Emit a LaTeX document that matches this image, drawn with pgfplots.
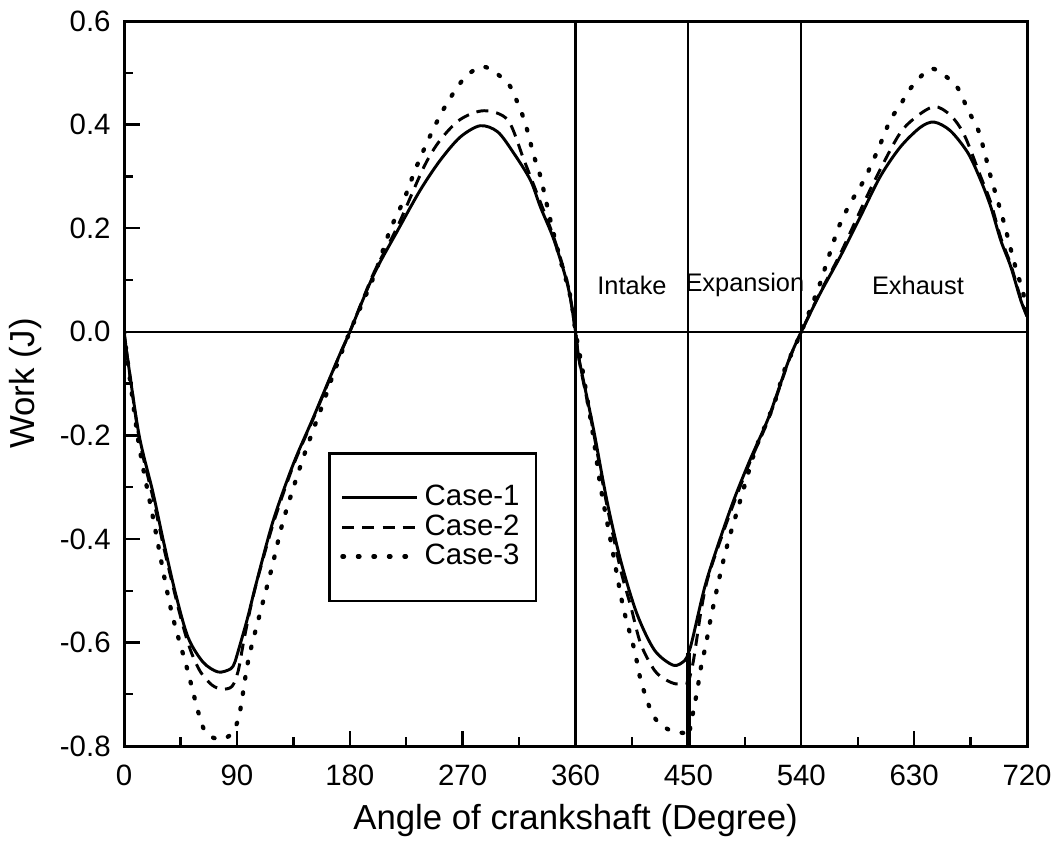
\documentclass[border=0pt]{standalone}
\usepackage{fontspec}
\setmainfont{Liberation Sans}
\usepackage{pgfplots}
\pgfplotsset{compat=1.18}

\begin{document}
\begin{tikzpicture}
\begin{axis}[
  scale only axis,
  width=337.7pt, height=271.1pt,
  xmin=0, xmax=720, ymin=-0.8, ymax=0.6,
  xtick={0,90,...,720},
  xticklabels={0,90,180,270,360,450,540,630,720},
  ytick={-0.8,-0.6,-0.4,-0.2,0,0.2,0.4,0.6},
  yticklabels={-0.8,-0.6,-0.4,-0.2,0.0,0.2,0.4,0.6},
  minor x tick num=1, minor y tick num=1,
  xtick pos=bottom, ytick pos=left,
  tick align=inside,
  major tick length=5.8pt, minor tick length=3.4pt,
  every tick/.style={black, line width=0.9pt},
  axis line style={line width=1.1pt},
  ticklabel style={font=\fontsize{11}{13}\selectfont},
  xticklabel style={yshift=-3.5pt},
  yticklabel style={xshift=-1.5pt},
  xlabel={Angle of crankshaft (Degree)},
  ylabel={Work (J)},
  label style={font=\fontsize{13}{15}\selectfont},
  legend style={at={(axis cs:163,-0.233)}, anchor=north west, draw=black,
    line width=0.8pt, font=\fontsize{11}{13}\selectfont,
    inner xsep=4pt, inner ysep=11pt,
    nodes={inner xsep=2pt, inner ysep=0.6pt, text height=8pt, text depth=1.8pt}},
  legend cell align=left,
  legend image code/.code={\draw[#1] (0pt,0pt) -- (28pt,0pt);},
]
% reference lines
\addplot[black, line width=0.8pt, forget plot] coordinates {(0,0) (720,0)};
\addplot[black, line width=0.8pt, forget plot] coordinates {(360,-0.8) (360,0.6)};
\addplot[black, line width=0.8pt, forget plot] coordinates {(450,-0.8) (450,0.6)};
\addplot[black, line width=0.8pt, forget plot] coordinates {(540,-0.8) (540,0.6)};
\addplot[black, line width=1.6pt, forget plot] coordinates {(450,-0.8) (450,-0.62)};

% Case-1
\addplot[black, line width=1.1pt, smooth] coordinates {
(0,0) (3,-0.055) (12,-0.20) (23,-0.31) (31,-0.40) (41,-0.505) (51,-0.59) (63,-0.638)
(75,-0.657) (85,-0.651) (88,-0.64) (90,-0.625) (98,-0.557) (106,-0.48) (119,-0.364)
(135,-0.255) (151,-0.165) (170,-0.055) (180,0) (199,0.11) (218,0.195) (236,0.273)
(252,0.331) (268,0.376) (284,0.398) (298,0.386) (311,0.344) (324,0.293) (332,0.241)
(343,0.176) (354,0.087) (360,0) (363,-0.055) (374,-0.184) (385,-0.326) (396,-0.442)
(409,-0.545) (423,-0.615) (438,-0.644) (447,-0.635) (450,-0.62) (453,-0.596)
(463,-0.493) (473,-0.416) (486,-0.326) (499,-0.248) (514,-0.165) (530,-0.055) (540,0)
(555,0.074) (571,0.145) (587,0.222) (603,0.3) (619,0.357) (635,0.395) (646,0.405)
(659,0.388) (673,0.345) (683,0.293) (691,0.242) (699,0.177) (707,0.126) (715,0.061)
(720,0.03)};
\addlegendentry{Case-1}

% Case-2
\addplot[black, line width=1.1pt, smooth, dash pattern=on 4.5pt off 3pt] coordinates {
(0,0) (3,-0.055) (12,-0.205) (23,-0.32) (32,-0.42) (45,-0.55) (53,-0.615) (61,-0.657)
(70,-0.682) (78,-0.69) (86,-0.685) (91,-0.655) (96,-0.59) (104,-0.5) (119,-0.37)
(135,-0.258) (151,-0.167) (170,-0.056) (180,0) (199,0.113) (218,0.203) (239,0.318)
(252,0.37) (268,0.41) (287,0.427) (306,0.409) (319,0.331) (332,0.25) (343,0.18)
(354,0.09) (360,0) (363,-0.057) (374,-0.19) (385,-0.335) (396,-0.46) (404,-0.53)
(412,-0.603) (423,-0.654) (432,-0.672) (440,-0.68) (447,-0.678) (450,-0.675)
(454,-0.635) (460,-0.54) (465,-0.48) (473,-0.42) (486,-0.332) (499,-0.252)
(514,-0.168) (530,-0.056) (540,0) (555,0.076) (571,0.15) (595,0.275) (617,0.377)
(630,0.412) (646,0.435) (659,0.418) (670,0.38) (683,0.3) (691,0.25) (699,0.182)
(707,0.13) (715,0.064) (720,0.03)};
\addlegendentry{Case-2}

% Case-3
\addplot[black, line width=1.6pt, smooth, line cap=round, dash pattern=on 0.6pt off 5.2pt] coordinates {
(0,0) (3,-0.06) (12,-0.22) (23,-0.358) (37,-0.532) (50,-0.648) (63,-0.764) (74,-0.786)
(84,-0.78) (91.5,-0.744) (99,-0.635) (109,-0.538) (118,-0.454) (127,-0.364)
(143,-0.242) (159,-0.136) (167,-0.081) (180,0) (199,0.106) (212,0.196) (223,0.254)
(232,0.312) (243,0.373) (255,0.431) (271,0.489) (287,0.512) (306,0.48) (314,0.441)
(320,0.402) (327,0.338) (332,0.3) (340,0.215) (348,0.138) (356,0.067) (360,0)
(366,-0.08) (374,-0.2) (380,-0.3) (390,-0.429) (398,-0.532) (407,-0.615) (412,-0.673)
(420,-0.731) (428,-0.76) (440,-0.773) (447,-0.775) (450,-0.78) (454,-0.731)
(457,-0.693) (460,-0.648) (464,-0.603) (468,-0.551) (476,-0.461) (482,-0.403)
(489,-0.345) (496,-0.287) (504,-0.223) (513,-0.171) (521,-0.12) (526,-0.077) (540,0)
(554,0.087) (561,0.139) (570,0.203) (579,0.248) (590,0.293) (601,0.351) (611,0.409)
(619,0.438) (627,0.47) (643,0.508) (657,0.49) (665,0.47) (673,0.428) (681,0.39)
(686,0.348) (691,0.3) (701,0.216) (710,0.132) (717,0.074) (720,0.03)};
\addlegendentry{Case-3}

\node[font=\fontsize{9.5}{11}\selectfont] at (axis cs:405,0.09) {Intake};
\node[font=\fontsize{9.5}{11}\selectfont] at (axis cs:495,0.09) {Expansion};
\node[font=\fontsize{9.5}{11}\selectfont] at (axis cs:633,0.09) {Exhaust};
\end{axis}
\path (current axis.south west) ++(-46.4pt,-37.8pt);
\path (current axis.north east) ++(12.7pt,7.9pt);
\end{tikzpicture}
\end{document}
